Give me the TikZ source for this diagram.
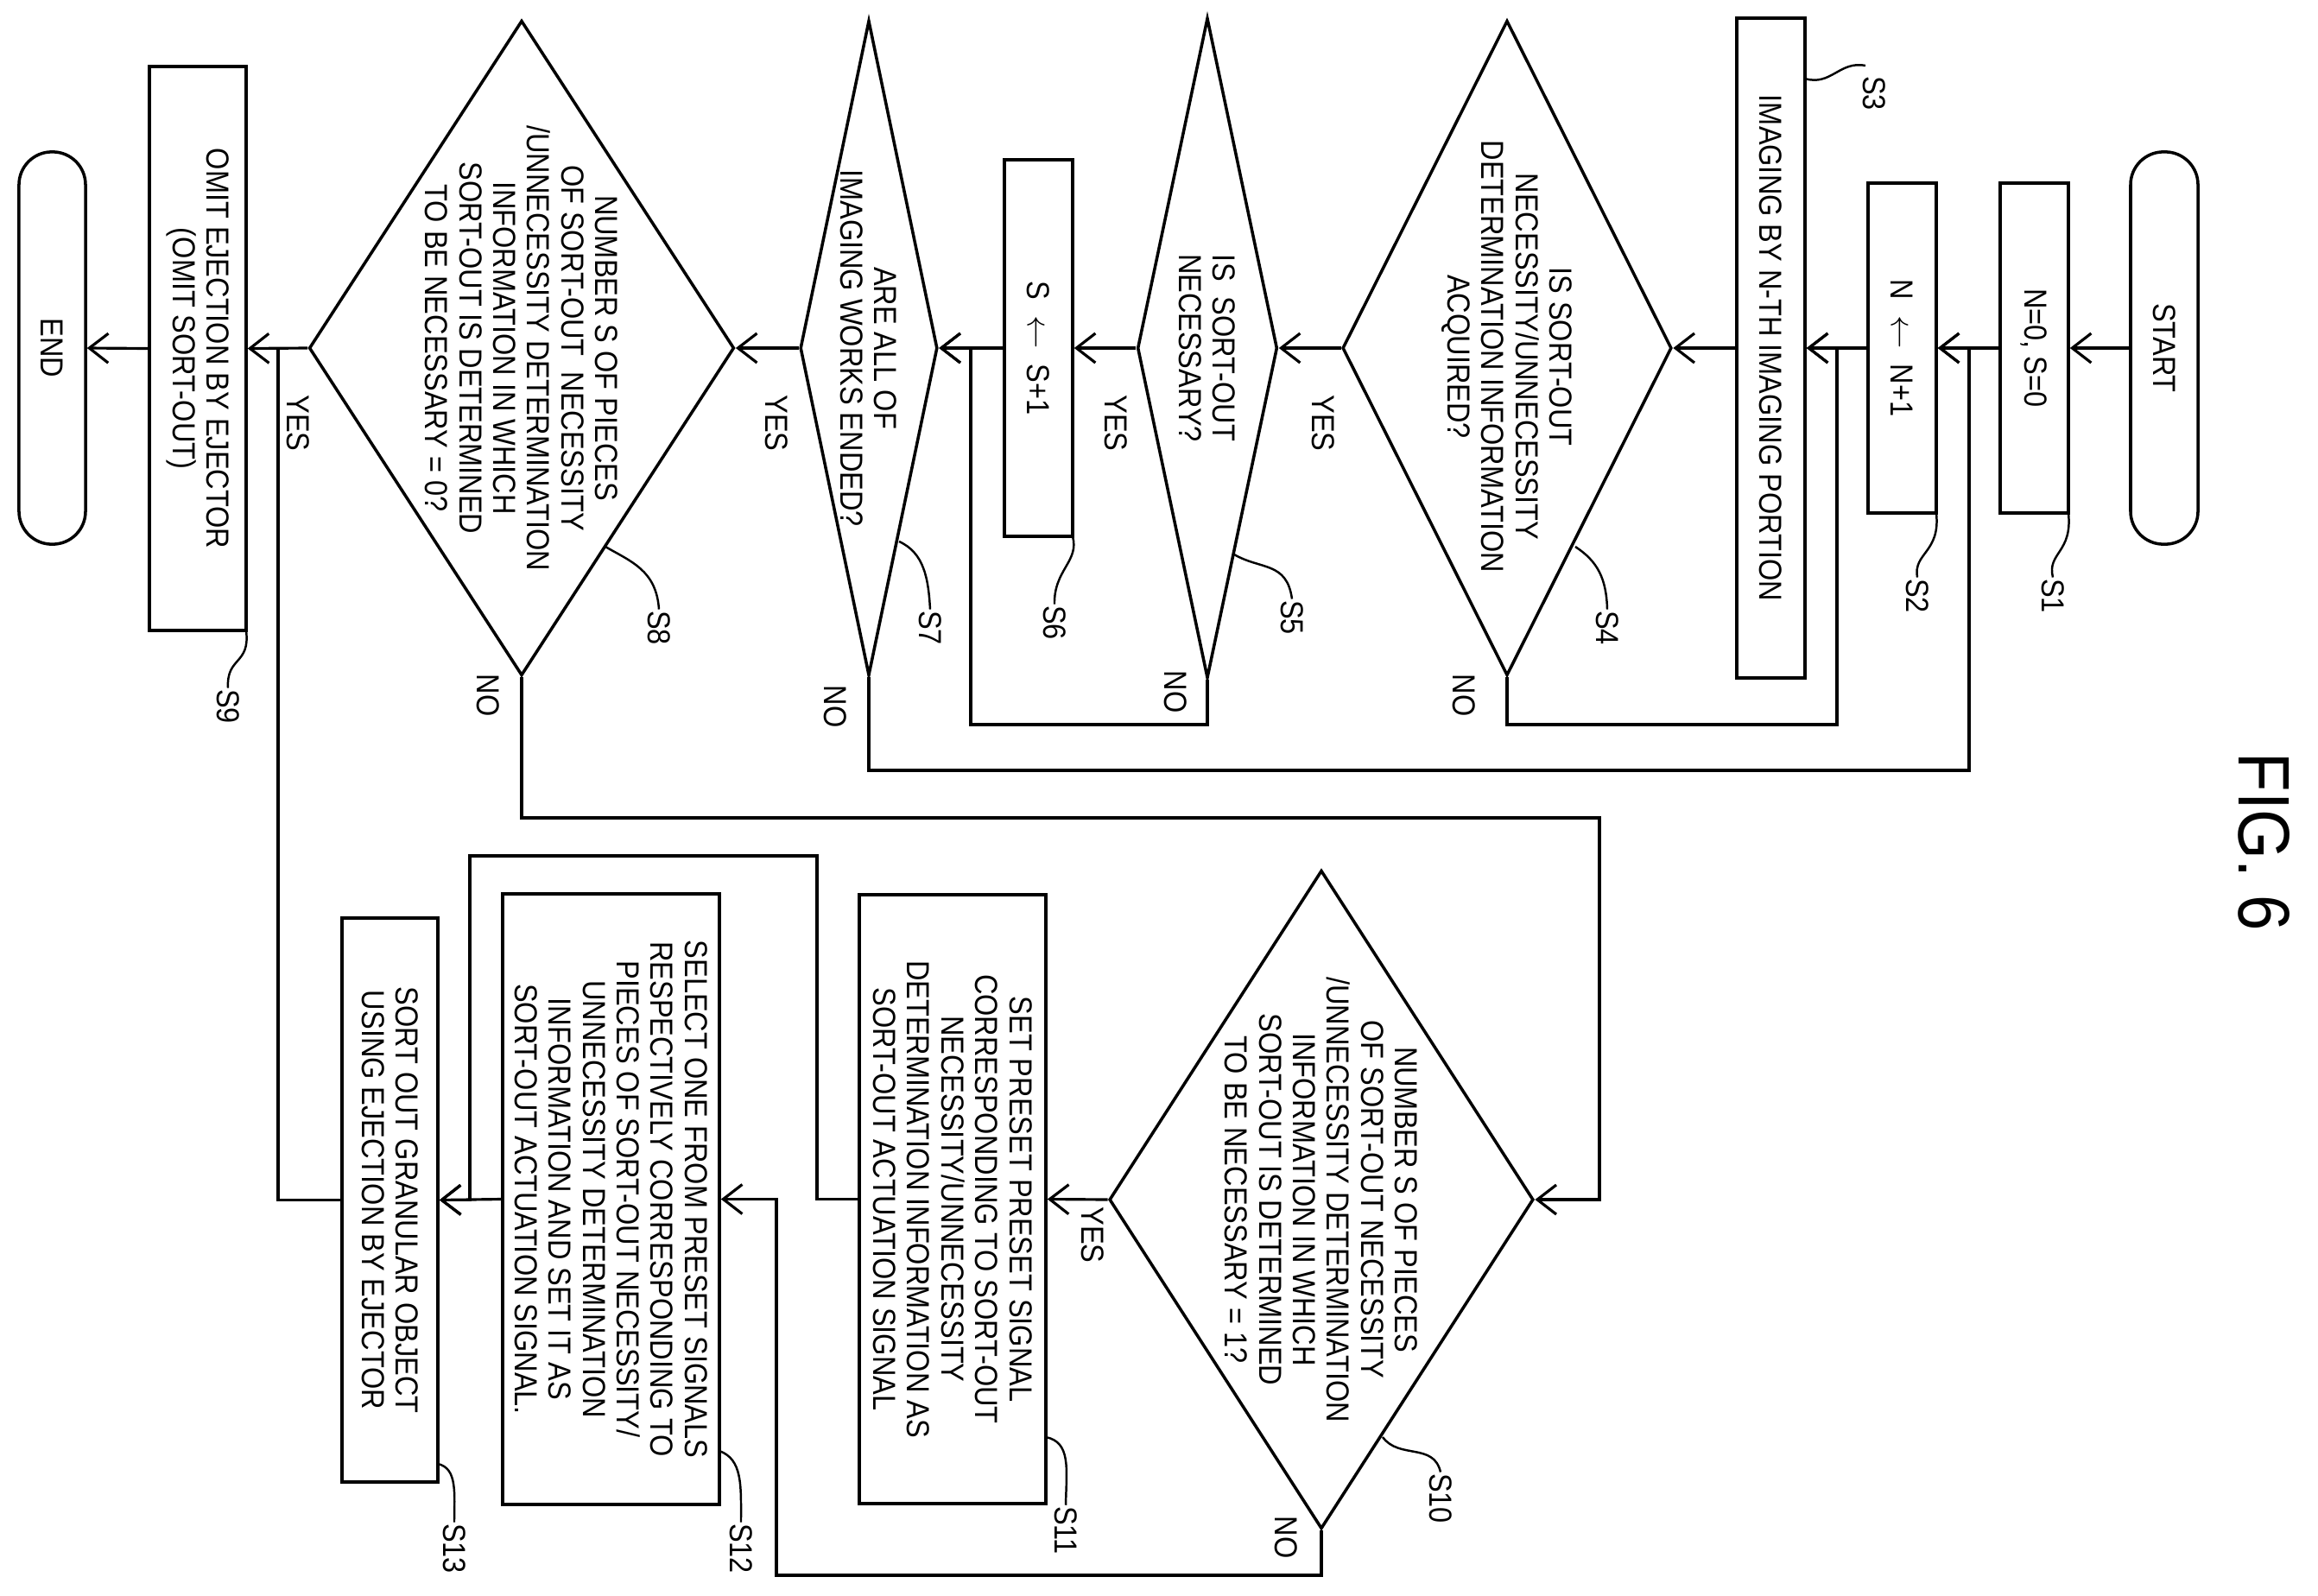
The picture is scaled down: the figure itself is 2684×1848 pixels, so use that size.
\documentclass[tikz,border=0pt]{standalone}
\usepackage{fontspec}
\setmainfont{Liberation Sans}[FakeStretch=0.88]
\usetikzlibrary{shapes.geometric,arrows.meta}
\begin{document}
\begin{tikzpicture}[x=0.01cm,y=-0.01cm, line width=0.9pt,
 every node/.style={font=\fontsize{10.5}{11.2}\selectfont, rotate=-90, inner sep=0pt, align=center},
 box/.style={draw, line width=1pt},
 term/.style={draw, line width=1pt, rounded corners=0.38cm},
 dia/.style={draw, diamond, line width=1pt},
 arr/.style={-{Straight Barb[length=2.2mm,width=3.4mm]}},
 lead/.style={line width=0.7pt}]
\useasboundingbox (0,0) rectangle (2684,1848);
% top row
\node[term, minimum width=4.54cm, minimum height=0.78cm] (start) at (2506,403) {START};
\node[box, minimum width=3.82cm, minimum height=0.79cm] (s1) at (2355.5,403) {N=0, S=0};
\node[box, minimum width=3.82cm, minimum height=0.79cm] (s2) at (2202.5,403) {N ~$\leftarrow$~ N+1};
\node[box, minimum width=7.64cm, minimum height=0.79cm] (s3) at (2050.5,403) {IMAGING BY N-TH IMAGING PORTION};
\node[dia, minimum width=7.58cm, minimum height=3.81cm] (s4) at (1745,403) {};
\node (s4t) at (1745,413) {IS SORT-OUT\\NECESSITY/UNNECESSITY\\DETERMINATION INFORMATION\\ACQUIRED?};
\node[dia, minimum width=7.64cm, minimum height=1.62cm] (s5) at (1398,403) {};
\node (s5t) at (1398,403) {IS~~SORT-OUT\\NECESSARY?};
\node[box, minimum width=4.36cm, minimum height=0.79cm] (s6) at (1202.5,403) {S ~$\leftarrow$~ S+1};
\node[dia, minimum width=7.58cm, minimum height=1.59cm] (s7) at (1006,403) {};
\node (s7t) at (1006,403) {ARE ALL OF\\IMAGING WORKS ENDED?};
\node[dia, minimum width=7.58cm, minimum height=4.92cm] (s8) at (604,403) {};
\node (s8t) at (604,403) {NUMBER S OF PIECES\\OF SORT-OUT~~NECESSITY\\/UNNECESSITY DETERMINATION\\INFORMATION IN WHICH\\SORT-OUT IS DETERMINED\\TO BE NECESSARY = 0?};
\node[box, minimum width=6.53cm, minimum height=1.12cm] (s9) at (229,403.5) {OMIT EJECTION BY EJECTOR\\(OMIT SORT-OUT)};
\node[term, minimum width=4.54cm, minimum height=0.77cm] (end) at (60.5,403) {END};
% bottom row
\node[dia, minimum width=7.62cm, minimum height=4.91cm] (s10) at (1530,1389) {};
\node (s10t) at (1530,1389) {NUMBER S OF PIECES\\OF SORT-OUT NECESSITY\\/UNNECESSITY DETERMINATION\\INFORMATION IN WHICH\\SORT-OUT IS DETERMINED\\TO BE NECESSARY = 1?};
\node[box, minimum width=7.05cm, minimum height=2.16cm] (s11) at (1103,1388.5) {SET PRESET PRESET SIGNAL\\CORRESPONDING TO SORT-OUT\\NECESSITY/UNNECESSITY\\DETERMINATION INFORMATION AS\\SORT-OUT ACTUATION SIGNAL};
\node[box, minimum width=7.07cm, minimum height=2.51cm] (s12) at (707.5,1388.5) {SELECT ONE FROM PRESET SIGNALS\\RESPECTIVELY CORRESPONDING TO\\PIECES OF SORT-OUT NECESSITY/\\UNNECESSITY DETERMINATION\\INFORMATION AND SET IT AS\\SORT-OUT ACTUATION SIGNAL.};
\node[box, minimum width=6.53cm, minimum height=1.11cm] (s13) at (451.5,1389.5) {SORT OUT GRANULAR OBJECT\\USING EJECTION BY EJECTOR};
% title
\node[font=\fontsize{24}{26}\selectfont] (fig) at (2622,975) {FIG. 6};
% main flow
\draw[arr] (start.south) -- (s1.north);
\draw[arr] (s1.south) -- (s2.north);
\draw[arr] (s2.south) -- (s3.north);
\draw[arr] (s3.south) -- (s4.north);
\draw[arr] (s4.south) -- (s5.north);
\draw[arr] (s5.south) -- (s6.north);
\draw[arr] (s6.south) -- (s7.north);
\draw[arr] (s7.south) -- (s8.north);
\draw[arr] (s8.south) -- (s9.north);
\draw[arr] (s9.south) -- (end.north);
% loops
\coordinate (c4) at (2127,839);
\coordinate (c5) at (1124,839);
\coordinate (c7) at (2280,892);
\coordinate (c8) at (1852,947);
\coordinate (c10) at (899,1824);
\coordinate (c11a) at (946,991);
\coordinate (c11b) at (544,991);
\coordinate (c13) at (322,403);
\draw[arr] (s4.east) |- (c4) |- (s3.north);
\draw[arr] (s5.east) |- (c5) |- (s7.north);
\draw[arr] (s7.east) |- (c7) |- (s2.north);
\draw[arr] (s8.east) |- (c8) |- (s10.north);
\draw[arr] (s10.south) -- (s11.north);
\draw[arr] (s10.east) |- (c10) |- (s12.north);
\draw[arr] (s11.south) -| (c11a) -- (c11b) |- (s13.north);
\draw[arr] (s12.south) -- (s13.north);
\draw (s13.south) -| (c13);
% yes / no
\node (y4) at (1532,490) {YES};
\node (y5) at (1292,490) {YES};
\node (y7) at (899,490) {YES};
\node (y8) at (345,490) {YES};
\node (y10) at (1265,1430) {YES};
\node (n4) at (1695,805) {NO};
\node (n5) at (1361,801) {NO};
\node (n7) at (967,818) {NO};
\node (n8) at (565,805) {NO};
\node (n10) at (1489,1780) {NO};
% step labels
\node (l1) at (2377,690) {S1};
\node (l2) at (2220,690) {S2};
\node (l3) at (2170,108) {S3};
\node (l4) at (1861,727) {S4};
\node (l5) at (1496,715) {S5};
\node (l6) at (1221,721) {S6};
\node (l7) at (1077,727) {S7};
\node (l8) at (763,727) {S8};
\node (l9) at (264,818) {S9};
\node (l10) at (1668,1735) {S10};
\node (l11) at (1234,1772) {S11};
\node (l12) at (858,1793) {S12};
\node (l13) at (526,1793) {S13};
\draw[lead] (2395,594) .. controls (2400,640) and (2370,640) .. (l1.west);
\draw[lead] (2242,594) .. controls (2247,640) and (2215,640) .. (l2.west);
\draw[lead] (2090,91) .. controls (2120,100) and (2130,70) .. (2160,76);
\draw[lead] (1824,633) .. controls (1850,650) and (1860,670) .. (l4.west);
\draw[lead] (1429,642) .. controls (1460,660) and (1490,650) .. (l5.west);
\draw[lead] (1242,621) .. controls (1250,650) and (1220,660) .. (l6.west);
\draw[lead] (1041,627) .. controls (1070,640) and (1075,670) .. (l7.west);
\draw[lead] (701,633) .. controls (730,650) and (760,660) .. (l8.west);
\draw[lead] (285,730) .. controls (290,770) and (262,760) .. (l9.west);
\draw[lead] (1601,1664) .. controls (1620,1690) and (1660,1670) .. (l10.west);
\draw[lead] (1211,1664) .. controls (1240,1670) and (1235,1700) .. (l11.west);
\draw[lead] (833,1680) .. controls (860,1690) and (858,1720) .. (l12.west);
\draw[lead] (507,1695) .. controls (530,1700) and (526,1730) .. (l13.west);
\end{tikzpicture}
\end{document}
